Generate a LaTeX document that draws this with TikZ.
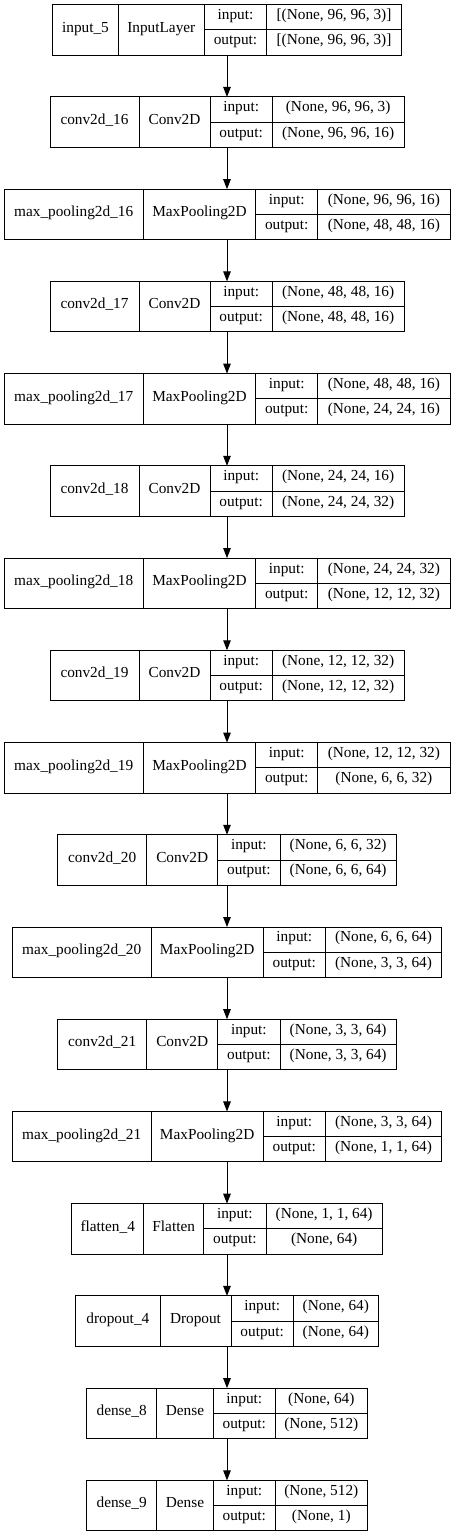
\documentclass[tikz,border=0pt]{standalone}
\usepackage{fontspec}
\setmainfont{Liberation Serif}
\usetikzlibrary{arrows.meta}

\newcommand{\layer}[9]{%
  \pgfmathsetmacro\ytop{4.7+92.23*#1}
  \pgfmathsetmacro\ymid{\ytop+25.25}
  \pgfmathsetmacro\yup{\ytop+12.625}
  \pgfmathsetmacro\ylow{\ytop+37.875}
  \pgfmathsetmacro\xend{454-#2}
  \node [frame, minimum width=\xend-#2] (L#1) at (227,\ymid) {};
  \node [cell, minimum width=#3-#2] (L#1-name) at ({(#2+#3)/2},\ymid) {#6};
  \node [cell, minimum width=#4-#3] (L#1-class) at ({(#3+#4)/2},\ymid) {#7};
  \node [half, minimum width=#5-#4] (L#1-inkey) at ({(#4+#5)/2},\yup) {input:};
  \node [half, minimum width=#5-#4] (L#1-outkey) at ({(#4+#5)/2},\ylow) {output:};
  \node [half, minimum width=\xend-#5] (L#1-in) at ({(#5+\xend)/2},\yup) {#8};
  \node [half, minimum width=\xend-#5] (L#1-out) at ({(#5+\xend)/2},\ylow) {#9};
}

\begin{document}
\begin{tikzpicture}[x=1pt,y=-1pt]
    \tikzstyle{every node}+=[inner sep=0pt, outer sep=0pt, font=\fontsize{15.3}{18}\selectfont, text height=0.68em, text depth=0.22em]
    \tikzstyle{frame}=[draw=black, line width=1pt, minimum height=50.5]
    \tikzstyle{cell}=[draw=black, line width=1pt, minimum height=50.5]
    \tikzstyle{half}=[draw=black, line width=1pt, minimum height=25.25]
    \tikzstyle{conn}=[black, line width=1pt, -{Triangle[width=7.5pt,length=10pt]}]
    \useasboundingbox (0,0) rectangle (454,1537);
    \layer{0}{52.7}{118.3}{204.3}{266.7}{input\_5}{InputLayer}{[(None, 96, 96, 3)]}{[(None, 96, 96, 3)]}
    \layer{1}{50}{139}{210}{272.3}{conv2d\_16}{Conv2D}{(None, 96, 96, 3)}{(None, 96, 96, 16)}
    \layer{2}{4}{143.3}{255.7}{317.7}{max\_pooling2d\_16}{MaxPooling2D}{(None, 96, 96, 16)}{(None, 48, 48, 16)}
    \layer{3}{50}{139}{210}{272.3}{conv2d\_17}{Conv2D}{(None, 48, 48, 16)}{(None, 48, 48, 16)}
    \layer{4}{4}{143.3}{255.7}{317.7}{max\_pooling2d\_17}{MaxPooling2D}{(None, 48, 48, 16)}{(None, 24, 24, 16)}
    \layer{5}{50}{139}{210}{272.3}{conv2d\_18}{Conv2D}{(None, 24, 24, 16)}{(None, 24, 24, 32)}
    \layer{6}{4}{143.3}{255.7}{317.7}{max\_pooling2d\_18}{MaxPooling2D}{(None, 24, 24, 32)}{(None, 12, 12, 32)}
    \layer{7}{50}{139}{210}{272.3}{conv2d\_19}{Conv2D}{(None, 12, 12, 32)}{(None, 12, 12, 32)}
    \layer{8}{4}{143.3}{255.7}{317.7}{max\_pooling2d\_19}{MaxPooling2D}{(None, 12, 12, 32)}{(None, 6, 6, 32)}
    \layer{9}{57.7}{146.7}{217.7}{280}{conv2d\_20}{Conv2D}{(None, 6, 6, 32)}{(None, 6, 6, 64)}
    \layer{10}{12.3}{151}{263.3}{325.3}{max\_pooling2d\_20}{MaxPooling2D}{(None, 6, 6, 64)}{(None, 3, 3, 64)}
    \layer{11}{57.7}{146.7}{217.7}{280}{conv2d\_21}{Conv2D}{(None, 3, 3, 64)}{(None, 3, 3, 64)}
    \layer{12}{12.3}{151}{263.3}{325.3}{max\_pooling2d\_21}{MaxPooling2D}{(None, 3, 3, 64)}{(None, 1, 1, 64)}
    \layer{13}{71.7}{143.7}{203.7}{266}{flatten\_4}{Flatten}{(None, 1, 1, 64)}{(None, 64)}
    \layer{14}{75.7}{160}{231}{293.3}{dropout\_4}{Dropout}{(None, 64)}{(None, 64)}
    \layer{15}{86.7}{156.7}{213.3}{275.3}{dense\_8}{Dense}{(None, 64)}{(None, 512)}
    \layer{16}{86.7}{156.7}{213.3}{275.3}{dense\_9}{Dense}{(None, 512)}{(None, 1)}
    \draw [conn] (L0) -- (L1);
    \draw [conn] (L1) -- (L2);
    \draw [conn] (L2) -- (L3);
    \draw [conn] (L3) -- (L4);
    \draw [conn] (L4) -- (L5);
    \draw [conn] (L5) -- (L6);
    \draw [conn] (L6) -- (L7);
    \draw [conn] (L7) -- (L8);
    \draw [conn] (L8) -- (L9);
    \draw [conn] (L9) -- (L10);
    \draw [conn] (L10) -- (L11);
    \draw [conn] (L11) -- (L12);
    \draw [conn] (L12) -- (L13);
    \draw [conn] (L13) -- (L14);
    \draw [conn] (L14) -- (L15);
    \draw [conn] (L15) -- (L16);
\end{tikzpicture}
\end{document}
